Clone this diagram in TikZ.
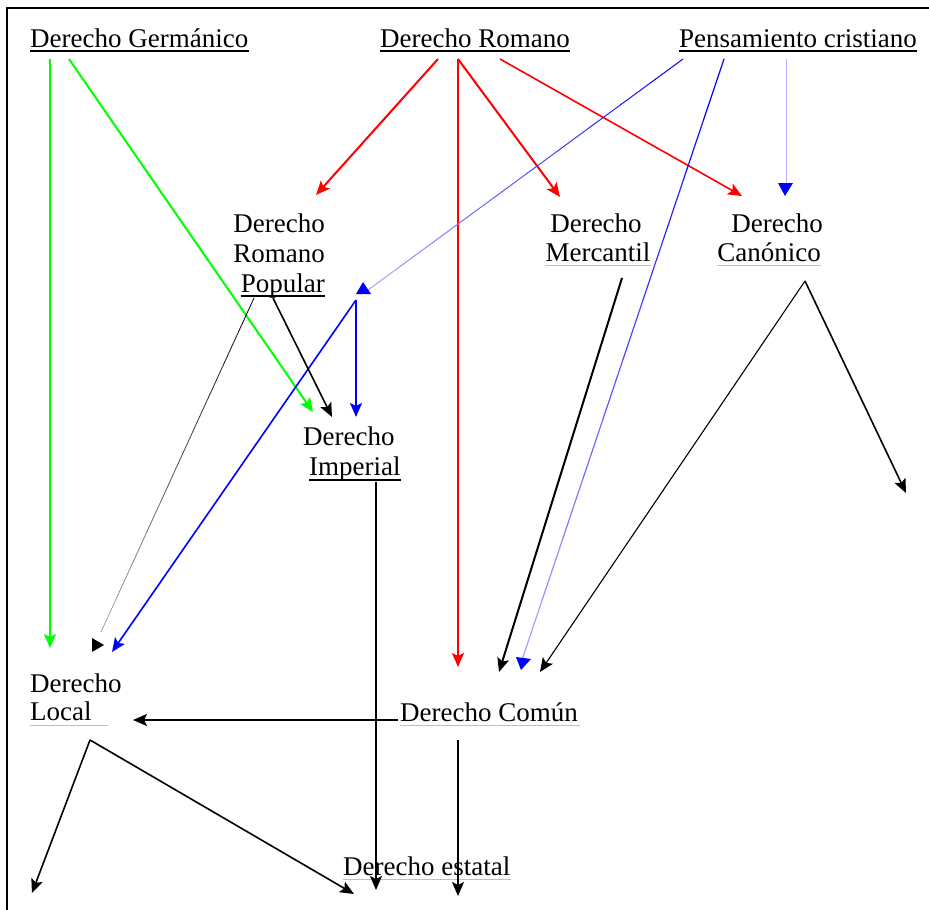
\documentclass[tikz,border=0pt]{standalone}
\usepackage{fontspec}
\setmainfont{Liberation Serif}
\usetikzlibrary{arrows.meta,calc}
\begin{document}
\begin{tikzpicture}[x=1pt,y=-1pt,
  lbl/.style={inner sep=0pt, font=\fontsize{27}{30}\selectfont},
  tip/.style={-{Stealth[length=14pt,width=12pt,inset=3pt]}},
  wide/.style={line width=2pt},
  mid/.style={line width=1.6pt},
  slim/.style={line width=1.1pt},
  ulb/.style={line width=1.5pt,black},
  ulg/.style={line width=1pt,black!25},
  tri/.style={-{Triangle[length=12pt,width=14pt]}}]
\useasboundingbox (0,0) rectangle (929,910);
\draw[line width=2pt] (7,910) -- (7,8) -- (929,8);

% ---------- labels ----------
\node[lbl,anchor=base west] (ger) at (30,47) {Derecho Germánico};
\node[lbl,anchor=base west] (rom) at (380,47) {Derecho Romano};
\node[lbl,anchor=base west] (pen) at (679,47) {Pensamiento cristiano};
\node[lbl,anchor=base east] (pop1) at (325,232) {Derecho};
\node[lbl,anchor=base east] (pop2) at (325,262) {Romano};
\node[lbl,anchor=base east] (pop3) at (325,292) {Popular};
\node[lbl,anchor=base] (mer1) at (596,232) {Derecho};
\node[lbl,anchor=base] (mer2) at (598,261) {Mercantil};
\node[lbl,anchor=base east] (can1) at (823,232) {Derecho};
\node[lbl,anchor=base east] (can2) at (821,261) {Canónico};
\node[lbl,anchor=base west] (imp1) at (303,445) {Derecho};
\node[lbl,anchor=base west] (imp2) at (309,475) {Imperial};
\node[lbl,anchor=base west] (loc1) at (30,692) {Derecho};
\node[lbl,anchor=base west] (loc2) at (30,720) {Local};
\node[lbl,anchor=base west] (com) at (400,721) {Derecho Común};
\node[lbl,anchor=base west] (est) at (343,875) {Derecho estatal};

% underlines
\draw[ulb] ([yshift=-4pt]ger.base west) -- ([yshift=-4pt]ger.base east);
\draw[ulb] ([yshift=-4pt]rom.base west) -- ([yshift=-4pt]rom.base east);
\draw[ulb] ([yshift=-4pt]pen.base west) -- ([yshift=-4pt]pen.base east);
\draw[ulb] ([yshift=-4pt]pop3.base west) -- ([yshift=-4pt]pop3.base east);
\draw[ulb] ([yshift=-5pt]imp2.base west) -- ([yshift=-5pt]imp2.base east);
\draw[ulg] ([yshift=-4pt]mer2.base west) -- ([yshift=-4pt]mer2.base east);
\draw[ulg] ([yshift=-4pt]can2.base west) -- ([yshift=-4pt]can2.base east);
\draw[ulg] ([yshift=-5pt]loc2.base west) -- ++(78,0);
\draw[ulg] ([yshift=-4pt]com.base west) -- ([yshift=-4pt,xshift=2pt]com.base east);
\draw[ulg] ([yshift=-4pt]est.base west) -- ([yshift=-4pt]est.base east);

% ---------- connector points ----------
\coordinate (gerA) at (50,59);
\coordinate (gerB) at (69,59);
\coordinate (romA) at (438,59);
\coordinate (romB) at (458,59);
\coordinate (romC) at (500,59);
\coordinate (penA) at (683,59);
\coordinate (penB) at (724,59);
\coordinate (penC) at (786,59);
\coordinate (locIn) at (50,648);
\coordinate (locInB) at (112,652);
\coordinate (impInG) at (313,412);
\coordinate (impInK) at (332,417);
\coordinate (impInB) at (356,417);
\coordinate (popIn) at (316,195);
\coordinate (merIn) at (560,197);
\coordinate (canIn) at (742,196);
\coordinate (comInR) at (458,667);
\coordinate (comInK) at (499,672);
\coordinate (comInB) at (522,660);
\coordinate (comInC) at (540,672);
\coordinate (junc) at (356,300);
\coordinate (juncTop) at (368,290);
\coordinate (popL) at (254,298);
\coordinate (popR) at (273,298);
\coordinate (popEnd) at (101,632);
\coordinate (merOut) at (622,278);
\coordinate (canOut) at (805,281);
\coordinate (rightEnd) at (906,493);
\coordinate (comL) at (398,720);
\coordinate (locArr) at (133,720);
\coordinate (locOut) at (90,740);
\coordinate (locEndL) at (32,893);
\coordinate (estInL) at (354,894);
\coordinate (impOut) at (376,482);
\coordinate (estInI) at (376,890);
\coordinate (comOut) at (458,740);
\coordinate (estInC) at (458,896);

% green
\draw[green,wide,tip] (gerA) -- (locIn);
\draw[green,wide,tip] (gerB) -- (impInG);
% red
\draw[red,wide,tip] (romA) -- (popIn);
\draw[red,wide,tip] (romB) -- (comInR);
\draw[red,wide,tip] (romB) -- (merIn);
\draw[red,mid,tip] (romC) -- (canIn);
% blue (faded)
\foreach \k [evaluate=\k as \i using \k/10, evaluate=\k as \j using (\k+1)/10, evaluate=\k as \c using int(100-7*\k)] in {0,...,9}
  \draw[blue!\c,line width=1pt,line cap=round] ($(penA)!\i!(juncTop)$) -- ($(penA)!\j!(juncTop)$);
\fill[blue] (356,294) -- (371,294) -- (363,282) -- cycle;
\draw[blue,mid,tip] (junc) -- (impInB);
\draw[blue,mid,tip] (junc) -- (locInB);
\foreach \k [evaluate=\k as \i using \k/10, evaluate=\k as \j using (\k+1)/10, evaluate=\k as \c using int(100-7*\k)] in {0,...,9}
  \draw[blue!\c,line width=1.2pt,line cap=round] ($(penB)!\i!(comInB)$) -- ($(penB)!\j!(comInB)$);
\fill[blue] (516,657) -- (531,659) -- (521,670) -- cycle;
\draw[blue!30,line width=0.8pt] (penC) -- (786,185);
\fill[blue] (778,183) -- (793,183) -- (785,196) -- cycle;
% black
\foreach \k [evaluate=\k as \i using \k/10, evaluate=\k as \j using (\k+1)/10, evaluate=\k as \c using int(100-7*\k)] in {0,...,9}
  \draw[black!\c,line width=0.8pt,line cap=round] ($(popL)!\i!(popEnd)$) -- ($(popL)!\j!(popEnd)$);
\fill[black] (92,638) -- (104,645) -- (92,652) -- cycle;
\draw[mid,tip] (popR) -- (impInK);
\draw[wide,tip] (merOut) -- (comInK);
\draw[slim,tip] (canOut) -- (comInC);
\draw[mid,tip] (canOut) -- (rightEnd);
\draw[wide,tip] (comL) -- (locArr);
\draw[mid,tip] (locOut) -- (locEndL);
\draw[mid,tip] (locOut) -- (estInL);
\draw[mid,tip] (impOut) -- (estInI);
\draw[mid,tip] (comOut) -- (estInC);
\end{tikzpicture}
\end{document}
